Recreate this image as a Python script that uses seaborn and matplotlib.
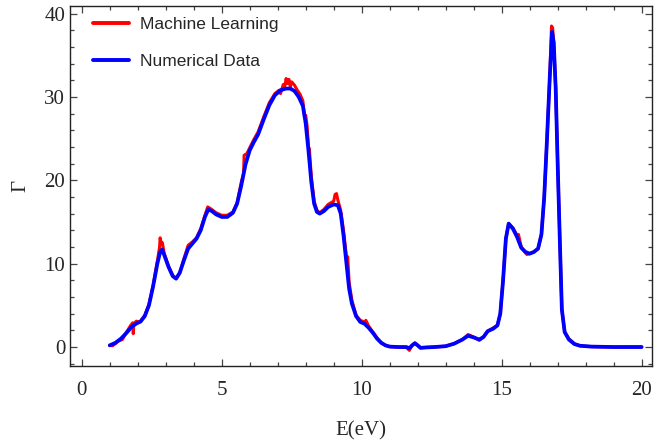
import numpy as np
import pandas as pd
import seaborn as sns
import matplotlib
matplotlib.use("Agg")
import matplotlib.pyplot as plt
from matplotlib.ticker import MultipleLocator

# ---- data ----
x_num = [1.0, 1.2, 1.4, 1.6, 1.8, 2.0, 2.1, 2.25, 2.4, 2.55, 2.7, 2.8, 2.87, 2.95, 3.1, 3.25,
         3.37, 3.5, 3.65, 3.8, 3.95, 4.1, 4.25, 4.4, 4.52, 4.65, 4.8, 5.0, 5.2, 5.4, 5.55, 5.7,
         5.85, 6.0, 6.15, 6.3, 6.5, 6.7, 6.9, 7.1, 7.3, 7.45, 7.6, 7.75, 7.9, 8.0, 8.1, 8.2,
         8.3, 8.4, 8.5, 8.65, 8.8, 9.0, 9.15, 9.25, 9.35, 9.45, 9.55, 9.65, 9.8, 9.95, 10.1,
         10.25, 10.4, 10.55, 10.7, 10.85, 11.0, 11.3, 11.6, 11.7, 11.8, 11.9, 12.0, 12.1, 12.3,
         12.6, 13.0, 13.3, 13.6, 13.8, 14.0, 14.2, 14.35, 14.5, 14.7, 14.85, 14.95, 15.05,
         15.15, 15.25, 15.4, 15.55, 15.7, 15.85, 16.0, 16.15, 16.3, 16.42, 16.52, 16.62, 16.72,
         16.8, 16.86, 16.93, 17.0, 17.08, 17.15, 17.25, 17.4, 17.6, 17.8, 18.2, 19.0, 20.0]
y_num = [0.2, 0.5, 1.0, 1.7, 2.5, 2.9, 3.05, 3.7, 5.0, 7.3, 10.0, 11.4, 11.7, 11.0, 9.6, 8.5,
         8.2, 8.9, 10.4, 11.8, 12.4, 13.0, 14.0, 15.6, 16.5, 16.3, 15.9, 15.6, 15.6, 16.1, 17.2, 19.4,
         21.9, 23.6, 24.6, 25.5, 27.3, 29.0, 30.2, 30.8, 31.0, 31.0, 30.7, 30.0, 28.9, 26.8, 23.5, 19.8,
         17.2, 16.2, 16.0, 16.3, 16.8, 17.1, 17.0, 16.0, 13.4, 10.2, 7.0, 5.2, 3.7, 3.0, 2.8,
         2.3, 1.7, 1.0, 0.5, 0.2, 0.05, 0.0, 0.0, -0.15, 0.2, 0.45, 0.2, -0.1, -0.05,
         0.0, 0.1, 0.4, 0.9, 1.35, 1.15, 0.9, 1.2, 1.9, 2.2, 2.6, 4.0, 8.0,
         13.0, 14.8, 14.2, 13.2, 11.9, 11.4, 11.2, 11.4, 11.8, 13.5, 18.0, 25.0, 32.5,
         37.8, 36.5, 31.0, 22.0, 12.5, 4.5, 1.8, 0.9, 0.35, 0.15, 0.05, 0.0, 0.0]

x_ml = [1.0, 1.1, 1.2, 1.3, 1.45, 1.6, 1.75, 1.82, 1.84, 1.86, 1.95, 2.05, 2.1, 2.25, 2.4, 2.55,
        2.7, 2.78, 2.8, 2.83, 2.88, 2.92, 2.95, 3.1, 3.25, 3.37, 3.5, 3.65, 3.8, 3.95, 4.1, 4.25,
        4.4, 4.5, 4.6, 4.8, 5.0, 5.2, 5.4, 5.55, 5.7, 5.78, 5.8, 5.9, 6.0, 6.15, 6.3, 6.5, 6.7,
        6.9, 7.05, 7.1, 7.2, 7.25, 7.3, 7.35, 7.4, 7.45, 7.5, 7.6, 7.7, 7.8, 7.9, 7.95, 8.0, 8.05,
        8.1, 8.13, 8.2, 8.3, 8.4, 8.5, 8.65, 8.8, 9.0, 9.05, 9.1, 9.15, 9.25, 9.35, 9.45, 9.5,
        9.55, 9.65, 9.8, 9.95, 10.1, 10.15, 10.25, 10.4, 10.55, 10.7, 10.85, 11.0, 11.3, 11.6,
        11.7, 11.8, 11.9, 12.0, 12.1, 12.3, 12.6, 13.0, 13.3, 13.6, 13.8, 14.0, 14.2, 14.35,
        14.5, 14.7, 14.85, 14.95, 15.05, 15.15, 15.25, 15.4, 15.55, 15.6, 15.7, 15.85, 15.9,
        16.0, 16.15, 16.3, 16.42, 16.52, 16.62, 16.72, 16.78, 16.82, 16.86, 16.93, 17.0, 17.08,
        17.15, 17.25, 17.4, 17.6, 17.8, 18.2, 19.0, 20.0]
y_ml = [0.2, 0.15, 0.4, 0.7, 0.9, 1.8, 2.6, 2.9, 1.6, 2.8, 3.1, 3.0, 3.1, 3.8, 5.1, 7.4,
        10.3, 12.0, 13.1, 12.6, 12.5, 11.7, 11.2, 9.7, 8.6, 8.2, 8.9, 10.6, 12.2, 12.6, 13.1, 14.2,
        15.8, 16.8, 16.6, 16.1, 15.8, 15.8, 16.2, 17.3, 19.8, 20.8, 23.0, 23.2, 23.9, 24.9, 25.8, 27.6, 29.3,
        30.4, 30.8, 30.4, 31.5, 31.2, 32.2, 31.6, 32.1, 31.2, 31.8, 31.4, 30.8, 30.3, 29.5, 27.8, 27.8, 26.5,
        24.0, 23.8, 20.5, 17.5, 16.4, 16.1, 16.5, 17.1, 17.5, 18.3, 18.4, 17.6, 16.4, 14.0, 11.0, 10.8,
        7.8, 5.6, 3.8, 3.2, 3.0, 3.2, 2.5, 1.8, 1.1, 0.5, 0.2, 0.05, 0.0, -0.05,
        -0.4, 0.2, 0.5, 0.2, -0.1, -0.05, 0.0, 0.1, 0.4, 0.9, 1.5, 1.2, 0.8, 1.2,
        1.9, 2.3, 2.6, 4.0, 8.0, 13.0, 14.8, 14.3, 13.4, 13.5, 12.0, 11.3, 11.1,
        11.2, 11.4, 11.8, 13.5, 18.0, 25.0, 32.5, 38.5, 38.3, 36.5, 31.0, 22.0, 12.5,
        4.5, 1.8, 1.0, 0.4, 0.15, 0.05, 0.0, 0.0]

labels = ["Machine Learning", "Numerical Data"]
x_ticks = [0, 5, 10, 15, 20]
y_ticks = [0, 10, 20, 30, 40]

df_ml = pd.DataFrame({"E": x_ml, "G": y_ml})
df_num = pd.DataFrame({"E": x_num, "G": y_num})

sns.set_theme(style="ticks")
plt.rcParams["font.family"] = ["Liberation Serif", "DejaVu Serif"]

fig = plt.figure(figsize=(6.54, 4.45), dpi=100)
ax = fig.add_axes([70/654, 1-365.7/445, (652-70)/654, (365.7-6)/445])

sns.lineplot(data=df_ml, x="E", y="G", ax=ax, color="#ff0000", lw=2.2,
             label=labels[0], estimator=None)
sns.lineplot(data=df_num, x="E", y="G", ax=ax, color="#0000ff", lw=2.7,
             label=labels[1], estimator=None)

ax.set_xlim(-0.42, 20.37)
ax.set_ylim(-2.24, 40.9)
ax.set_xticks(x_ticks)
ax.set_yticks(y_ticks)
ax.xaxis.set_minor_locator(MultipleLocator(1))
ax.yaxis.set_minor_locator(MultipleLocator(2))
ax.tick_params(which="both", direction="in", top=True, right=True, color="#444444", width=0.9)
ax.tick_params(which="major", length=5)
ax.tick_params(which="minor", length=3)
ax.tick_params(axis="x", which="major", pad=11, labelsize=15)
ax.tick_params(axis="y", which="major", pad=3.5, labelsize=15)
for s in ax.spines.values():
    s.set_color("#222222")
    s.set_linewidth(1.0)

ax.set_xlabel("E(eV)", fontsize=15, labelpad=15)
ax.set_ylabel("Γ", fontsize=15, labelpad=10)

leg = ax.legend(loc="upper left", bbox_to_anchor=(0.0129, 1.0139), frameon=False,
                prop={"family": "Liberation Sans", "size": 12.5},
                handlelength=2.07, handletextpad=0.63, labelspacing=1.28,
                borderaxespad=0.6, borderpad=0.3)
for h in leg.get_lines():
    h.set_linewidth(2.8)

fig.savefig("out.png", dpi=100)
